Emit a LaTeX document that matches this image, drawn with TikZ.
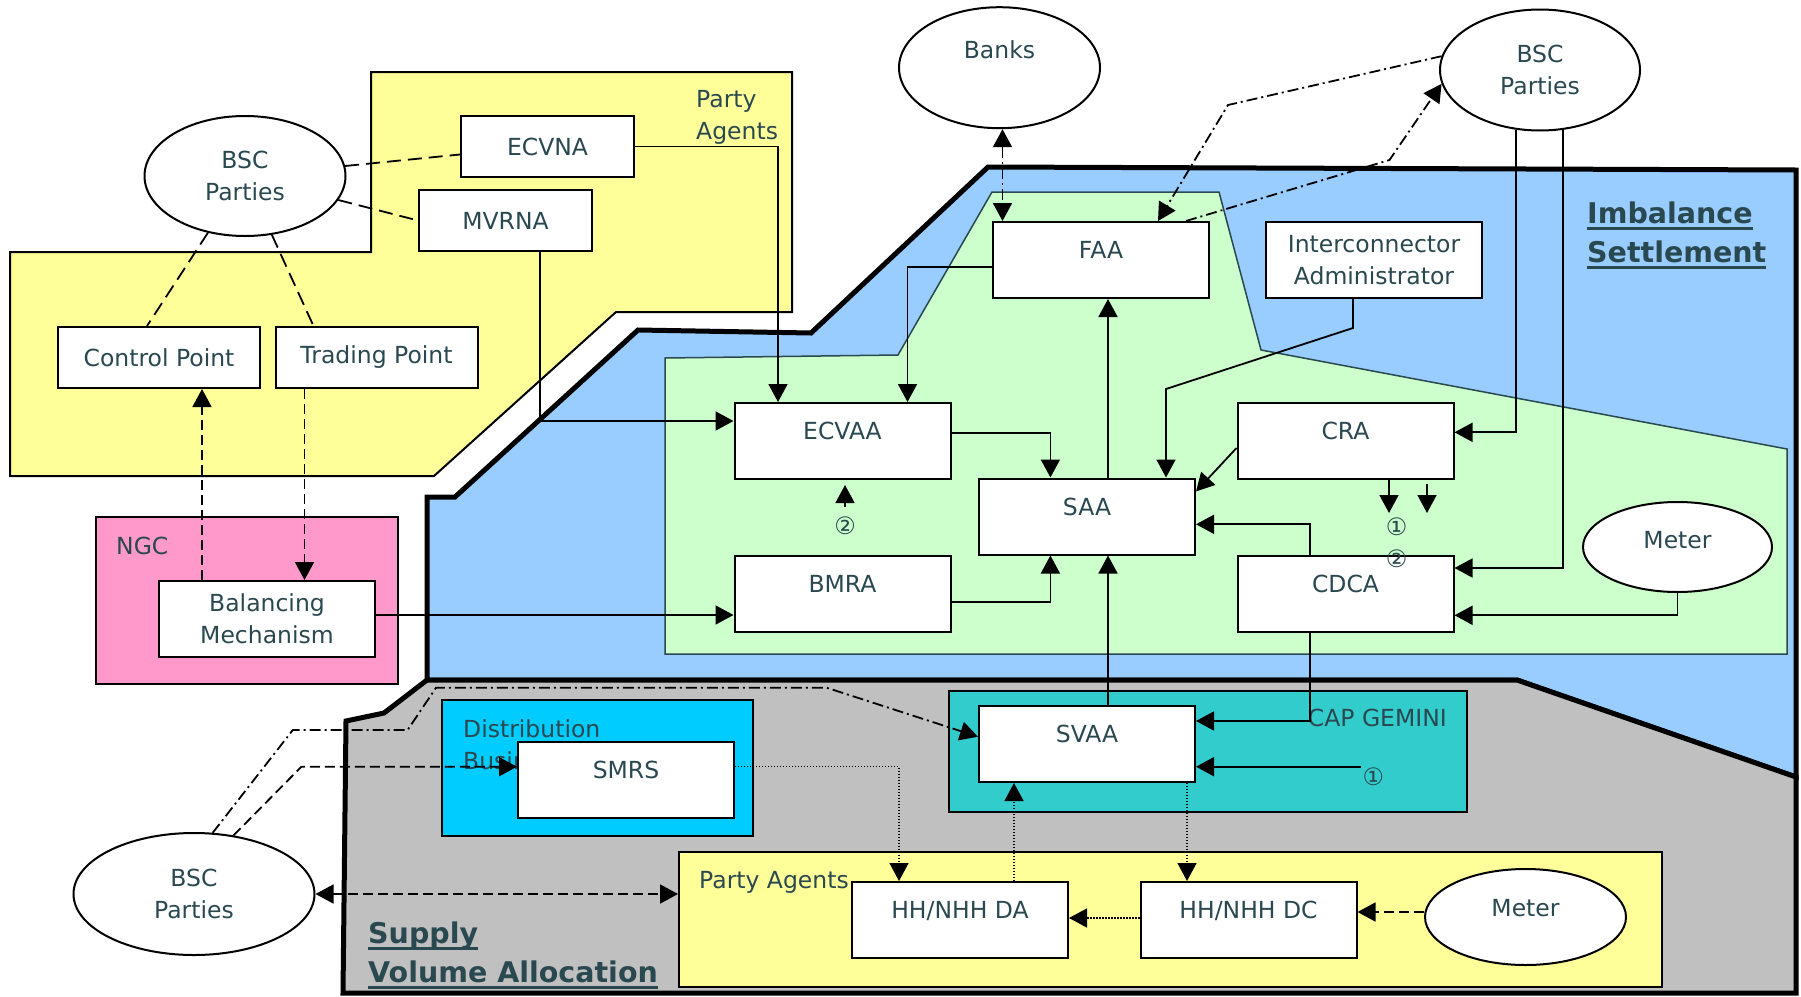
\documentclass[tikz,border=0pt]{standalone}
\usepackage{fontspec}
\setmainfont{DejaVu Sans}
\usetikzlibrary{positioning,shapes.geometric,arrows.meta}
\definecolor{slate}{RGB}{42,72,80}
\definecolor{paleyellow}{RGB}{255,255,153}
\definecolor{skyblue}{RGB}{153,204,255}
\definecolor{palegreen}{RGB}{204,255,204}
\definecolor{ngcpink}{RGB}{255,153,204}
\definecolor{distcyan}{RGB}{0,204,255}
\definecolor{capteal}{RGB}{51,204,204}
\definecolor{greyarea}{RGB}{192,192,192}
\newcommand\ulined[1]{\setbox0\hbox{#1}\rlap{\rule[-6.5pt]{\wd0}{3pt}}\box0}

\begin{document}
\begin{tikzpicture}
    [x=1pt,y=-1pt,font=\fontsize{23.5}{32}\selectfont,
    >={Triangle[length=18pt,width=19pt]},
    box/.style={rectangle,draw,line width=2pt,fill=white,text=slate,align=center,inner sep=0pt},
    unit/.style={box,minimum width=216pt,minimum height=76pt,text height=17.5pt,text depth=20.5pt},
    agent/.style={box,minimum width=173pt,minimum height=61pt},
    party/.style={ellipse,draw,line width=2pt,fill=white,text=slate,align=center,inner sep=0pt},
    lift/.style={text height=17.5pt,text depth=#1},
    area/.style={draw,line width=2pt,inner sep=0pt},
    tag/.style={text=slate,inner sep=0pt,align=left},
    heading/.style={tag,font=\fontsize{28.5}{38.7}\selectfont\bfseries},
    digit/.style={tag,font=\fontsize{24}{28}\selectfont},
    conn/.style={line width=1.8pt},
    dashlink/.style={conn,dash pattern=on 10pt off 5pt},
    longdash/.style={conn,dash pattern=on 14pt off 7pt},
    dotlink/.style={line width=1.4pt,dash pattern=on 1.4pt off 1.6pt},
    chainlink/.style={conn,dash pattern=on 11pt off 4pt on 2pt off 4pt}]
    \useasboundingbox (0,0) rectangle (1801,996);
    % areas
    \draw[area,fill=paleyellow] (371,72) -- (792,72) -- (792,312) -- (616,312) -- (434,476)
        -- (10,476) -- (10,252) -- (371,252) -- cycle;
    \draw[line width=5pt,fill=skyblue] (427,680) -- (427,497) -- (455,497) -- (638,330) -- (811,333)
        -- (988,167) -- (1796,170) -- (1796,777) -- (1517,680) -- cycle;
    \draw[line width=1.5pt,draw=slate,fill=palegreen] (665,358) -- (898,355) -- (992,192) -- (1219,192)
        -- (1261,350) -- (1787,449) -- (1787,654) -- (665,654) -- cycle;
    \draw[line width=5pt,fill=greyarea] (427,680) -- (1517,680) -- (1796,777) -- (1796,993)
        -- (343,993) -- (346,721) -- (384,713) -- cycle;
    \node[area,fill=ngcpink,minimum width=302pt,minimum height=167pt] (ngc) at (247,600.5) {};
    \node[area,fill=distcyan,minimum width=311pt,minimum height=136pt] (dist) at (597.5,768) {};
    \node[area,fill=capteal,minimum width=518pt,minimum height=121pt] (capg) at (1208,751.4) {};
    \node[area,fill=paleyellow,minimum width=983pt,minimum height=135pt] (pagent) at (1170.5,919.2) {};
    % area labels
    \node[tag,anchor=north west] at (696,90.5) {Party\\Agents};
    \node[tag,anchor=west] at (116,546) {NGC};
    \node[tag,anchor=north west] at (463,719) {Distribution\\Business};
    \node[tag,anchor=east] at (1447,718) {CAP GEMINI};
    \node[tag,anchor=west] at (699,882) {Party Agents};
    \node[heading,anchor=north west] at (1587,202) {\ulined{Imbalance}\\\ulined{Settlement}};
    \node[heading,anchor=north west] at (368,921.5) {\ulined{Supply}\\\ulined{Volume Allocation}};
    % agents and parties
    \node[party,minimum width=201pt,minimum height=120pt] (bscTL) at (245,176) {BSC\\Parties};
    \node[party,minimum width=201pt,minimum height=121pt,lift=36.5pt] (banks) at (999.5,67.7) {Banks};
    \node[party,minimum width=200pt,minimum height=121pt] (bscTR) at (1540,70) {BSC\\Parties};
    \node[party,minimum width=189pt,minimum height=90pt,lift=14.5pt] (meterR) at (1677.5,547) {Meter};
    \node[party,minimum width=201pt,minimum height=96pt,lift=18.5pt] (meterB) at (1525.5,917) {Meter};
    \node[party,minimum width=241pt,minimum height=122pt] (bscBL) at (194,894) {BSC\\Parties};
    \node[agent] (ecvna) at (547.5,146.5) {ECVNA};
    \node[agent] (mvrna) at (505.5,220.5) {MVRNA};
    \node[agent,minimum width=202pt] (cpoint) at (159,357.5) {Control Point};
    \node[agent,minimum width=202pt] (tpoint) [right=13.5pt of cpoint] {Trading Point};
    \node[box,minimum width=216pt,minimum height=76pt] (bm) at (267,619) {Balancing\\Mechanism};
    % systems
    \node[unit] (faa) at (1101,260) {FAA};
    \node[box,minimum width=216pt,minimum height=76pt] (ica) at (1374,260) {Interconnector\\Administrator};
    \node[unit] (ecvaa) at (842.5,441) {ECVAA};
    \node[unit] (saa) at (1087,516.5) {SAA};
    \node[unit] (cra) at (1345.5,441) {CRA};
    \node[unit] (bmra) [below=75pt of ecvaa] {BMRA};
    \node[unit] (cdca) [below=75pt of cra] {CDCA};
    \node[unit] (svaa) at (1087,744) {SVAA};
    \node[unit] (smrs) at (626,780) {SMRS};
    \node[unit] (hhda) at (960,920) {HH/NHH DA};
    \node[unit] (hhdc) at (1248.5,920) {HH/NHH DC};
    \node[digit] (mark2a) at (845,525.7) {②};
    \node[digit] (mark1c) at (1396.6,526.7) {①};
    \node[digit] (mark2c) at (1396.6,559) {②};
    \node[digit] (mark1s) at (1373.4,776.7) {①};
    \coordinate (bendA) at (1228,105);
    \coordinate (bendB) at (1389.5,160);
    \coordinate (bendC) at (292.8,730);
    \coordinate (bendD) at (407.6,730);
    \coordinate (bendE) at (436,687.7);
    \coordinate (bendF) at (826.6,687.7);
    \coordinate (bendG) at (301.4,766.7);
    \coordinate (feed1) at (1360.5,766.7);
    % party agent links
    \path[longdash] (bscTL) edge ([yshift=-8]ecvna.west)
                            edge (mvrna.west)
                            edge ([xshift=-12]cpoint.north)
                            edge ([xshift=-63]tpoint.north);
    \draw[conn,->] (ecvna.east) -| ([xshift=-64.5]ecvaa.north);
    \draw[conn,->] ([xshift=34.5]mvrna.south) |- ([yshift=20]ecvaa.west);
    \draw[dashlink,->] ([xshift=-72]tpoint.south) -- ([xshift=-72]tpoint.south |- bm.north);
    \draw[dashlink,->] ([xshift=43]cpoint.south |- bm.north) -- ([xshift=43]cpoint.south);
    \draw[conn,->] ([yshift=4]bm.east) -- ([yshift=4]bm.east -| bmra.west);
    % settlement links
    \draw[conn,->] ([yshift=-6.7]faa.west) -| ([xshift=65]ecvaa.north);
    \draw[conn,->] ([yshift=7.7]ecvaa.east) -| ([xshift=-36.6]saa.north);
    \draw[conn,->] ([xshift=21]saa.north) -- ([xshift=21]saa.north |- faa.south);
    \draw[conn,->] ([xshift=-21]ica.south) -- ++(0,29) -- ++(-187,61) -- ([xshift=79]saa.north);
    \draw[conn,->] ([yshift=-7]cra.west) -- ([yshift=25]saa.east);
    \draw[conn,->] ([xshift=-35.5]cdca.north) |- ([yshift=-7.8]saa.east);
    \draw[conn,->] ([yshift=-8]bmra.east) -| ([xshift=-36.6]saa.south);
    \draw[conn,->] ([xshift=21]svaa.north) -- ([xshift=21]svaa.north |- saa.south);
    \draw[conn,->] (bscTR.-112) |- ([yshift=8.7]cra.east);
    \draw[conn,->] (bscTR.-69) |- ([yshift=26]cdca.east);
    \draw[conn,->] (meterR.south) |- ([yshift=-21.3]cdca.east);
    \draw[conn,->] ([xshift=-35.5]cdca.south) |- ([yshift=23]svaa.east);
    \draw[chainlink,<->] ([xshift=3]banks.south) -- ([xshift=3]banks.south |- faa.north);
    \draw[chainlink,->] (bscTR.172) -- (bendA) -- ([xshift=57]faa.north);
    \draw[chainlink,->] ([xshift=85]faa.north) -- (bendB) -- (bscTR.-172);
    \draw[conn,->] (mark2a.north) ++(0,-10) -- ([xshift=2.5,yshift=-5]ecvaa.south);
    \draw[conn,->] ([xshift=43.5]cra.south) -- ++(0,33);
    \draw[conn,->] ([xshift=81.5]cra.south) ++(0,4) -- ++(0,29);
    \draw[conn,->] (feed1) -- (feed1 -| svaa.east);
    % volume allocation links
    \draw[chainlink,->] (bscBL.73) -- (bendC) -- (bendD) -- (bendE) -- (bendF) -- ([yshift=7.3]svaa.west);
    \draw[dashlink,->] (bscBL.56) -- (bendG) -- ([yshift=13.3]smrs.west);
    \draw[dotlink,->] ([yshift=13.3]smrs.east) -| ([xshift=-61]hhda.north);
    \draw[dotlink,->] ([xshift=54]hhda.north) -- ([xshift=54]hhda.north |- svaa.south);
    \draw[dotlink,->] ([xshift=100]svaa.south) -- ([xshift=100]svaa.south |- hhdc.north);
    \draw[dotlink,->] ([yshift=2]hhdc.west) -- ([yshift=2]hhdc.west -| hhda.east);
    \draw[dashlink,->] ([yshift=5]meterB.west) -- ([yshift=5]meterB.west -| hhdc.east);
    \draw[dashlink,<->] (bscBL.east) -- (bscBL.east -| pagent.west);
\end{tikzpicture}
\end{document}
